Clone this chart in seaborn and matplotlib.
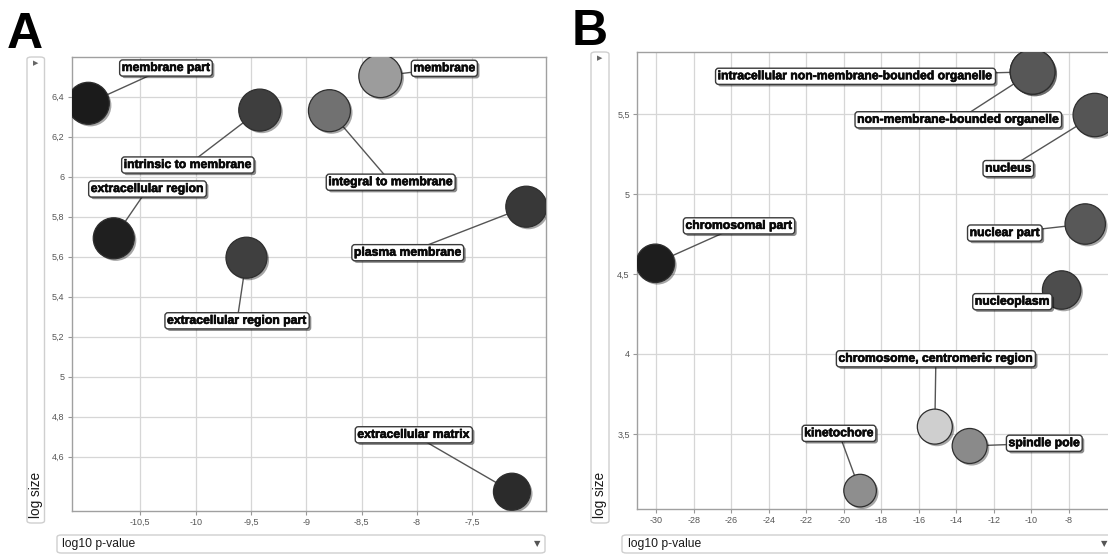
import numpy as np
import pandas as pd
import matplotlib
matplotlib.use("Agg")
import matplotlib.pyplot as plt
import seaborn as sns
from matplotlib import patheffects as pe
from matplotlib.patches import FancyBboxPatch
from matplotlib.ticker import FuncFormatter, FixedLocator

# ---------------- data ----------------
a_terms = ["membrane part", "intrinsic to membrane", "integral to membrane", "membrane",
           "extracellular region", "extracellular region part", "plasma membrane",
           "extracellular matrix"]
a_log10p = [-10.97, -9.42, -8.79, -8.33, -10.74, -9.54, -7.01, -7.14]
a_logsize = [6.367, 6.333, 6.330, 6.503, 5.692, 5.595, 5.850, 4.425]

b_terms = ["intracellular non-membrane-bounded organelle", "non-membrane-bounded organelle",
           "nucleus", "nuclear part", "chromosomal part", "nucleoplasm",
           "chromosome, centromeric region", "spindle pole", "kinetochore"]
b_log10p = [-9.92, -9.92, -6.60, -7.11, -30.06, -8.37, -15.14, -13.28, -19.13]
b_logsize = [5.764, 5.764, 5.494, 4.8125, 4.567, 4.40, 3.546, 3.425, 3.146]

a_xticks = [-10.5, -10, -9.5, -9, -8.5, -8, -7.5]
a_yticks = [4.6, 4.8, 5.0, 5.2, 5.4, 5.6, 5.8, 6.0, 6.2, 6.4]
b_xticks = [-30, -28, -26, -24, -22, -20, -18, -16, -14, -12, -10, -8]
b_yticks = [3.5, 4.0, 4.5, 5.0, 5.5]

x_title = "log10 p-value"
y_title = "log size"

# ---------------- styles / layout ----------------
a_colors = ["#1b1b1b", "#3e3e3e", "#717171", "#9c9c9c", "#1f1f1f", "#3f3f3f", "#383838", "#2b2b2b"]
a_radius_px = [21, 21, 21, 21.5, 20.5, 20.5, 20.5, 18.5]
a_label_xy = [(-10.268, 6.5435), (-10.070, 6.0585), (-8.236, 5.9725), (-7.751, 6.542),
              (-10.435, 5.9385), (-9.625, 5.2795), (-8.082, 5.62), (-8.027, 4.7095)]

b_colors = ["#575757", "#575757", "#555555", "#585858", "#1d1d1d", "#4d4d4d", "#cfcfcf",
            "#8a8a8a", "#8e8e8e"]
b_radius_px = [22.4, 22.4, 21.7, 20.2, 19.2, 19.2, 17.5, 17.5, 16.3]
b_label_xy = [(-19.375, 5.736), (-13.887, 5.464), (-11.217, 5.159), (-11.404, 4.756),
              (-25.595, 4.801), (-11.0, 4.327), (-15.083, 3.97), (-9.295, 3.442),
              (-20.256, 3.504)]

W, H = 1108, 554
sns.set_style("white")
plt.rcParams["font.family"] = ["Liberation Sans", "DejaVu Sans"]

fig = plt.figure(figsize=(W / 100, H / 100), dpi=100)


def rect(l, t, r, b):
    return [l / W, 1 - b / H, (r - l) / W, (b - t) / H]


def comma_fmt(v, pos=None):
    return f"{v:g}".replace(".", ",")


def draw_panel(ax, terms, xs, ys, colors, radii, label_xy, xlim, ylim, xticks, yticks):
    df = pd.DataFrame({"term": terms, "x": xs, "y": ys})
    for x, y, (lx, ly) in zip(xs, ys, label_xy):
        ax.plot([x, lx], [y, ly], color="#555555", lw=1.0, zorder=2)
    sizes = {t: (2 * r * 0.72) ** 2 for t, r in zip(terms, radii)}
    pal = dict(zip(terms, colors))
    sns.scatterplot(data=df, x="x", y="y", hue="term", palette=pal, size="term",
                    sizes=sizes, legend=False, ax=ax, edgecolor="#2e2e2e",
                    linewidth=0.9, zorder=3)
    coll = ax.collections[-1]
    coll.set_path_effects([pe.SimplePatchShadow(offset=(1.5, -1.5), shadow_rgbFace="#000000",
                                                alpha=0.35), pe.Normal()])
    for t, (lx, ly) in zip(terms, label_xy):
        txt = ax.text(lx, ly, t, ha="center", va="center", fontsize=8.8, fontweight="bold",
                      color="#0a0a0a", zorder=6,
                      bbox=dict(boxstyle="round,pad=0.17,rounding_size=0.25", fc="white",
                                ec="#3a3a3a", lw=1.0))
        txt.set_path_effects([pe.withStroke(linewidth=0.45, foreground="#0a0a0a")])
        txt.get_bbox_patch().set_path_effects(
            [pe.SimplePatchShadow(offset=(1.5, -1.5), shadow_rgbFace="#000000", alpha=0.45),
             pe.Normal()])
    ax.set_xlim(*xlim)
    ax.set_ylim(*ylim)
    ax.xaxis.set_major_locator(FixedLocator(xticks))
    ax.yaxis.set_major_locator(FixedLocator(yticks))
    ax.xaxis.set_major_formatter(FuncFormatter(comma_fmt))
    ax.yaxis.set_major_formatter(FuncFormatter(comma_fmt))
    ax.set_xlabel("")
    ax.set_ylabel("")
    ax.grid(True, color="#d6d6d6", lw=0.9)
    ax.set_axisbelow(True)
    for s in ax.spines.values():
        s.set_color("#a0a0a0")
        s.set_linewidth(1.0)
    ax.tick_params(axis="both", labelsize=6.5, labelcolor="#555555", length=3,
                   color="#999999", width=0.8, pad=2, left=True, bottom=True)


axA = fig.add_axes(rect(71.5, 57.3, 546, 511))
draw_panel(axA, a_terms, a_log10p, a_logsize, a_colors, a_radius_px, a_label_xy,
           (-11.122, -6.832), (4.3285, 6.597), a_xticks, a_yticks)

axB = fig.add_axes(rect(636.7, 52.3, 1113, 509))
draw_panel(axB, b_terms, b_log10p, b_logsize, b_colors, b_radius_px, b_label_xy,
           (-31.057, -5.627), (3.031, 5.886), b_xticks, b_yticks)

# ---------------- decorations (panel letters, side / bottom controls) ----------------
fig.text(7 / W, 1 - 48 / H, "A", fontsize=36, fontweight="bold", color="black",
         ha="left", va="baseline")
fig.text(572 / W, 1 - 45 / H, "B", fontsize=36, fontweight="bold", color="black",
         ha="left", va="baseline")


def ctrl_box(l, t, r, b):
    p = FancyBboxPatch((l / W, 1 - b / H), (r - l) / W, (b - t) / H,
                       boxstyle="round,pad=0,rounding_size=0.004", transform=fig.transFigure,
                       fc="white", ec="#cfcfcf", lw=1.0, zorder=0)
    fig.patches.append(p)


for (side_l, side_r, side_t, bot_l, bot_r) in [(27, 44.5, 57, 57, 545), (591, 609, 52, 622, 1125)]:
    ctrl_box(side_l, side_t, side_r, 523)
    ctrl_box(bot_l, 535, bot_r, 553)
    cx = (side_l + side_r) / 2
    fig.text(cx / W, 1 - (side_t + 6) / H, "\u25B6", fontsize=5, color="#666666",
             ha="center", va="center", family="DejaVu Sans")
    fig.text(cx / W, 1 - 495 / H, y_title, fontsize=9.8, color="#1a1a1a", rotation=90,
             ha="center", va="center")
    fig.text((bot_l + 5.5) / W, 1 - 544 / H, x_title, fontsize=8.7, color="#1a1a1a",
             ha="left", va="center")
    fig.text(min(bot_r - 8, 1104) / W, 1 - 544 / H, "\u25BC", fontsize=6, color="#555555",
             ha="center", va="center", family="DejaVu Sans")

fig.savefig("out.png", dpi=100)
